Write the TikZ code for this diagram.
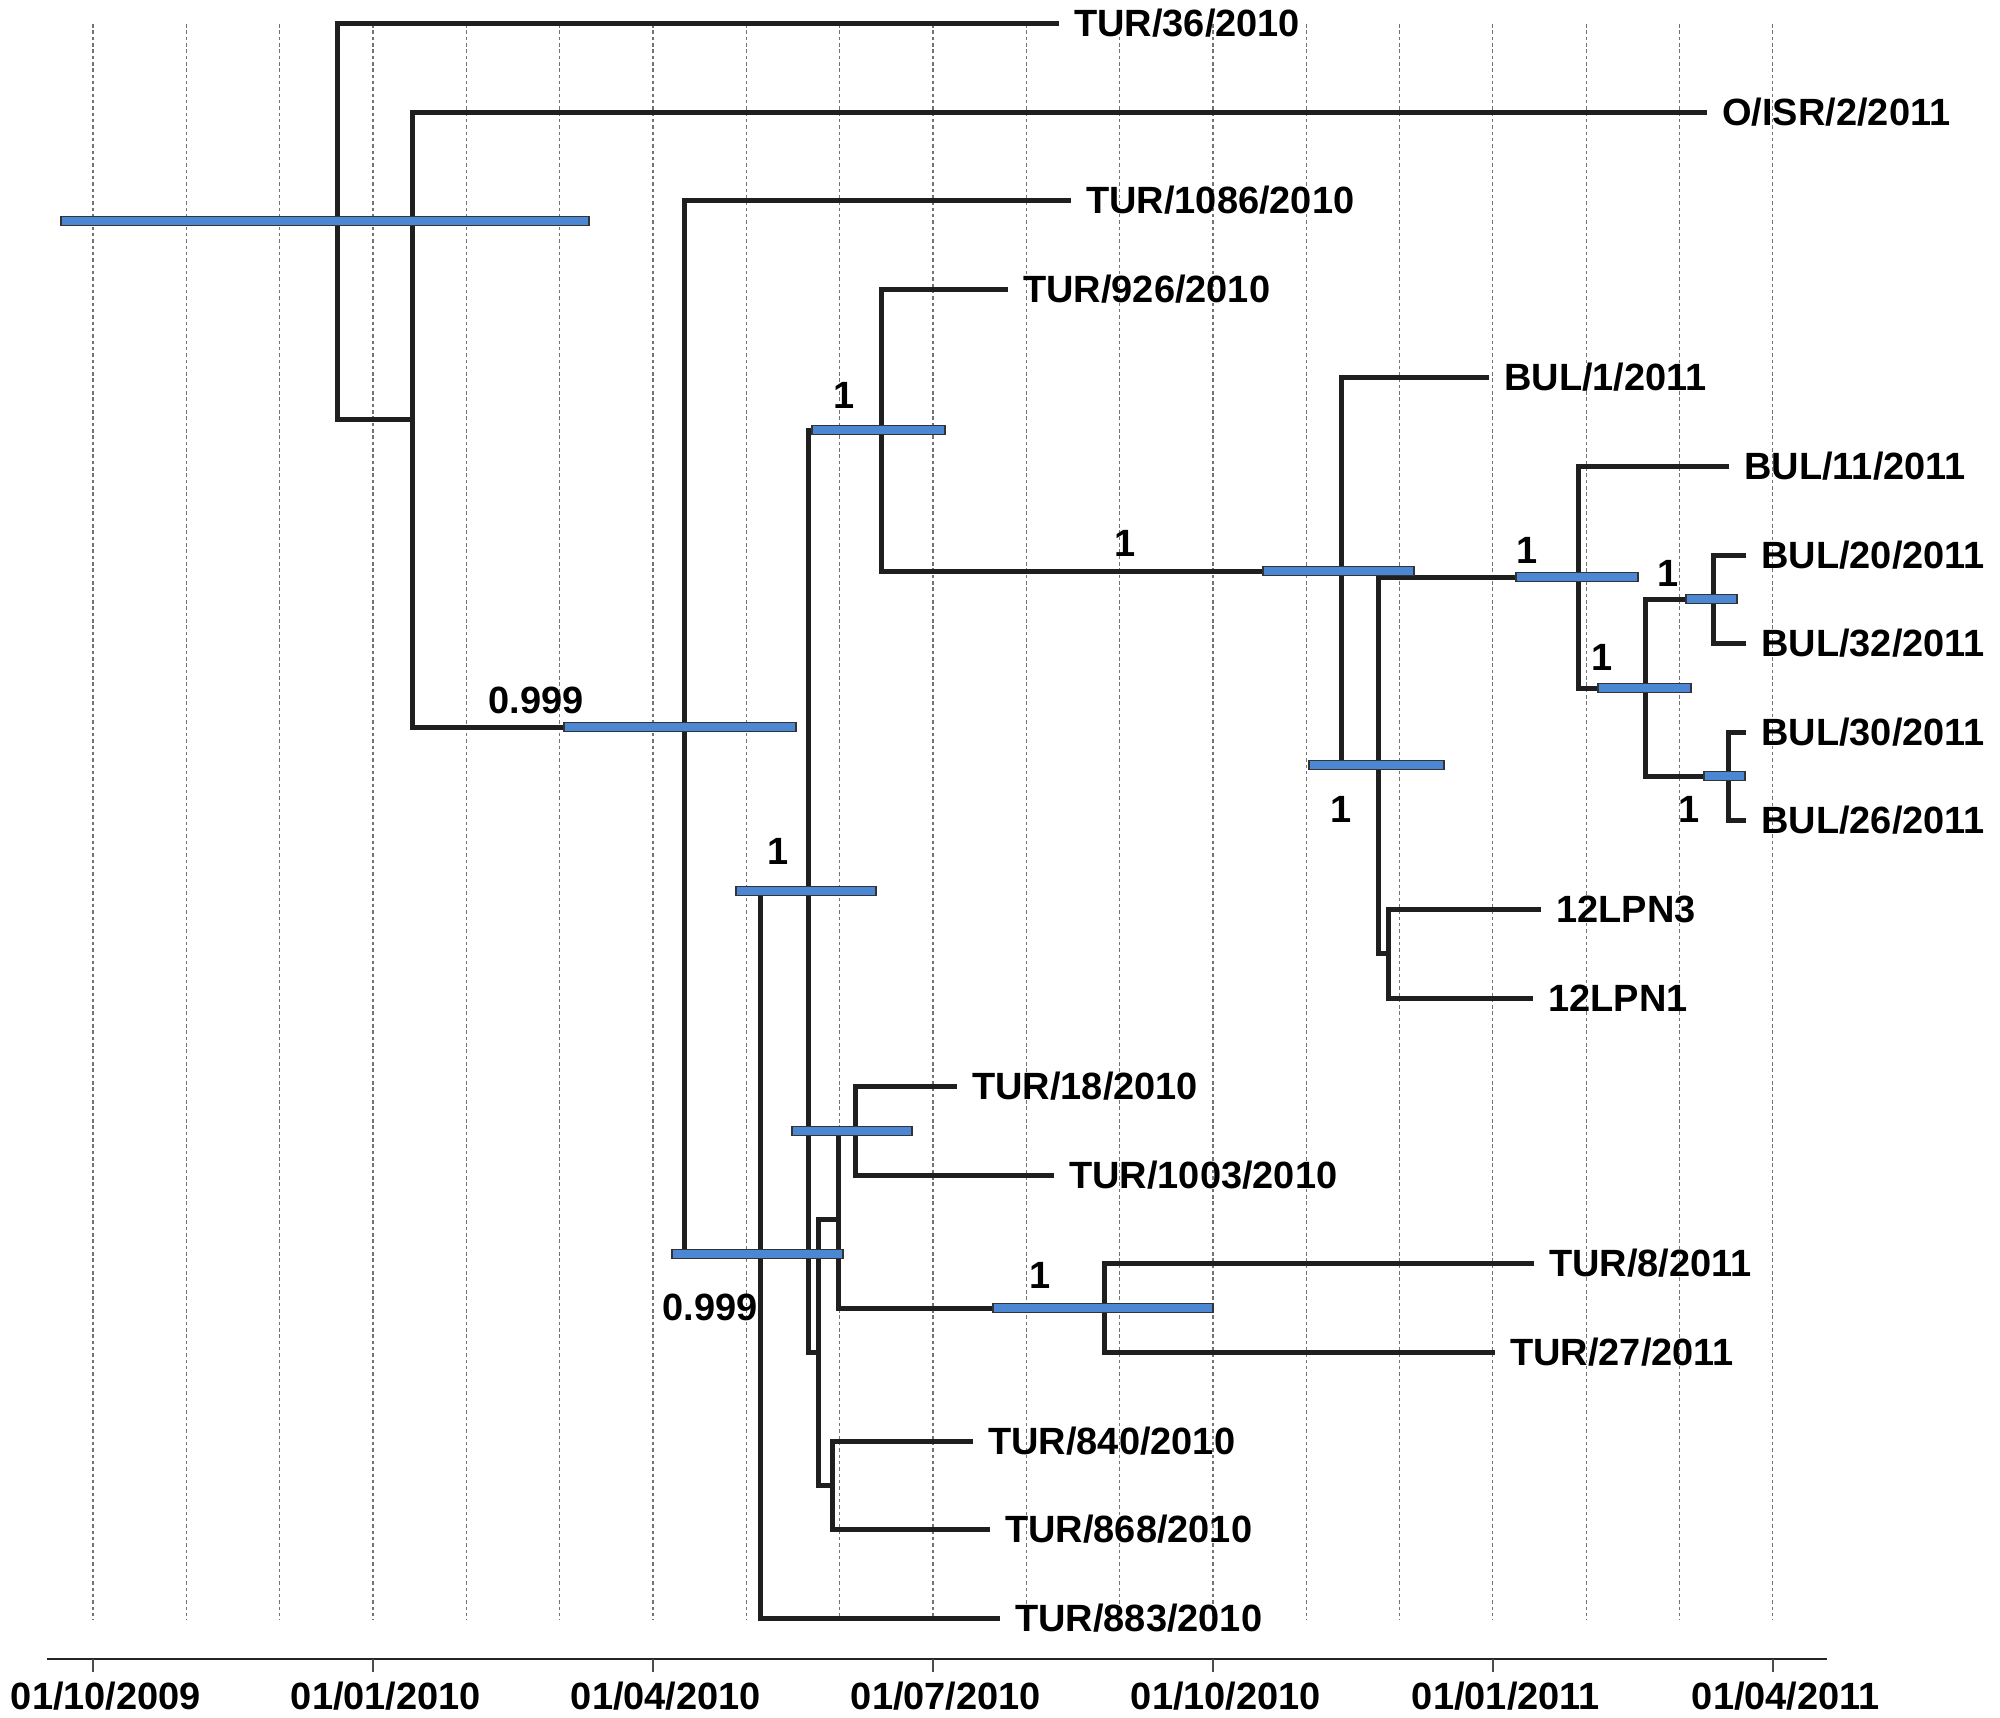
\documentclass[tikz,border=0pt]{standalone}
\usepackage{fontspec}
\setmainfont{Liberation Sans}
\usetikzlibrary{positioning}

\definecolor{hpdblue}{RGB}{76,135,212}

\begin{document}
\begin{tikzpicture}[
        x=0.01cm, y=-0.01cm,
        branch/.style={draw=black!88, line width=0.05cm},
        hpd/.style={draw=black!80, fill=hpdblue, line width=0.4pt},
        leaf/.style={inner sep=1pt, font=\bfseries\fontsize{10.8}{13}\selectfont},
        post/.style={inner sep=0pt, font=\bfseries\fontsize{10.8}{13}\selectfont},
        datelabel/.style={inner sep=0pt, font=\bfseries\fontsize{10.8}{13}\selectfont},
        monthgrid/.style={draw=black!55, line width=0.3pt, dash pattern=on 1pt off 0.8pt},
        axisline/.style={draw=black!85, line width=0.8pt},
        axistick/.style={draw=black!70, line width=0.4pt}
    ]
        \useasboundingbox (0,0) rectangle (2000,1717);

        % Month grid
        \foreach \m in {0,...,18}
            \draw[monthgrid] ({93+93.33*\m},24) -- ({93+93.33*\m},1620);

        % Time axis
        \draw[axisline] (47,1659) -- (1827,1659);
        \foreach \m/\mo/\yr in {0/10/2009, 3/01/2010, 6/04/2010, 9/07/2010, 12/10/2010, 15/01/2011, 18/04/2011} {
            \draw[axistick] ({93+93.33*\m},1659) -- ++(0,13);
            \node[datelabel] (d\m) at ({106+93.33*\m},1696) {01/\mo/\yr};
        }

        % Tips
        \coordinate (tur36) at (1059,23);
        \coordinate (isr2) at (1707,112);
        \coordinate (tur1086) at (1071,200);
        \coordinate (tur926) at (1008,289);
        \coordinate (bul1) at (1489,377);
        \coordinate (bul11) at (1729,466);
        \coordinate (bul20) at (1746,555);
        \coordinate (bul32) at (1746,643);
        \coordinate (bul30) at (1746,732);
        \coordinate (bul26) at (1746,820);
        \coordinate (lpn3) at (1541,909);
        \coordinate (lpn1) at (1533,998);
        \coordinate (tur18) at (957,1086);
        \coordinate (tur1003) at (1054,1175);
        \coordinate (tur8) at (1534,1263);
        \coordinate (tur27) at (1495,1352);
        \coordinate (tur840) at (973,1441);
        \coordinate (tur868) at (990,1529);
        \coordinate (tur883) at (1000,1618);

        \node[leaf, right=0.11cm of tur36] (ltur36) {TUR/36/2010};
        \node[leaf, right=0.11cm of isr2] (lisr2) {O/ISR/2/2011};
        \node[leaf, right=0.11cm of tur1086] (ltur1086) {TUR/1086/2010};
        \node[leaf, right=0.11cm of tur926] (ltur926) {TUR/926/2010};
        \node[leaf, right=0.11cm of bul1] (lbul1) {BUL/1/2011};
        \node[leaf, right=0.11cm of bul11] (lbul11) {BUL/11/2011};
        \node[leaf, right=0.11cm of bul20] (lbul20) {BUL/20/2011};
        \node[leaf, right=0.11cm of bul32] (lbul32) {BUL/32/2011};
        \node[leaf, right=0.11cm of bul30] (lbul30) {BUL/30/2011};
        \node[leaf, right=0.11cm of bul26] (lbul26) {BUL/26/2011};
        \node[leaf, right=0.11cm of lpn3] (llpn3) {12LPN3};
        \node[leaf, right=0.11cm of lpn1] (llpn1) {12LPN1};
        \node[leaf, right=0.11cm of tur18] (ltur18) {TUR/18/2010};
        \node[leaf, right=0.11cm of tur1003] (ltur1003) {TUR/1003/2010};
        \node[leaf, right=0.11cm of tur8] (ltur8) {TUR/8/2011};
        \node[leaf, right=0.11cm of tur27] (ltur27) {TUR/27/2011};
        \node[leaf, right=0.11cm of tur840] (ltur840) {TUR/840/2010};
        \node[leaf, right=0.11cm of tur868] (ltur868) {TUR/868/2010};
        \node[leaf, right=0.11cm of tur883] (ltur883) {TUR/883/2010};

        % Internal nodes
        \coordinate (root) at (337,221);
        \coordinate (n1) at (412,419);
        \coordinate (n2) at (684,727);
        \coordinate (n3) at (760,1254);
        \coordinate (n4) at (808,891);
        \coordinate (n5) at (881,430);
        \coordinate (n6) at (1341,571);
        \coordinate (n7) at (1378,765);
        \coordinate (n8) at (1578,577);
        \coordinate (n9) at (1645,688);
        \coordinate (n10) at (1713,599);
        \coordinate (n11) at (1728,776);
        \coordinate (n12) at (1388,953);
        \coordinate (n13) at (818,1352);
        \coordinate (n14) at (838,1219);
        \coordinate (n15) at (855,1131);
        \coordinate (n16) at (1104,1308);
        \coordinate (n17) at (832,1485);

        % Branches
        \draw[branch] (root) |- (tur36);
        \draw[branch] (root) |- (n1);
        \draw[branch] (n1) |- (isr2);
        \draw[branch] (n1) |- (n2);
        \draw[branch] (n2) |- (tur1086);
        \draw[branch] (n2) |- (n3);
        \draw[branch] (n3) |- (n4);
        \draw[branch] (n3) |- (tur883);
        \draw[branch] (n4) |- (n5);
        \draw[branch] (n4) |- (n13);
        \draw[branch] (n5) |- (tur926);
        \draw[branch] (n5) |- (n6);
        \draw[branch] (n6) |- (bul1);
        \draw[branch] (n6) |- (n7);
        \draw[branch] (n7) |- (n8);
        \draw[branch] (n7) |- (n12);
        \draw[branch] (n8) |- (bul11);
        \draw[branch] (n8) |- (n9);
        \draw[branch] (n9) |- (n10);
        \draw[branch] (n9) |- (n11);
        \draw[branch] (n10) |- (bul20);
        \draw[branch] (n10) |- (bul32);
        \draw[branch] (n11) |- (bul30);
        \draw[branch] (n11) |- (bul26);
        \draw[branch] (n12) |- (lpn3);
        \draw[branch] (n12) |- (lpn1);
        \draw[branch] (n13) |- (n14);
        \draw[branch] (n13) |- (n17);
        \draw[branch] (n14) |- (n15);
        \draw[branch] (n14) |- (n16);
        \draw[branch] (n15) |- (tur18);
        \draw[branch] (n15) |- (tur1003);
        \draw[branch] (n16) |- (tur8);
        \draw[branch] (n16) |- (tur27);
        \draw[branch] (n17) |- (tur840);
        \draw[branch] (n17) |- (tur868);

        % Node height bars
        \draw[hpd] (root) ++(-276,-4.5) rectangle ++(528,9);
        \draw[hpd] (n2) ++(-120,-4.5) rectangle ++(232,9);
        \draw[hpd] (n3) ++(-88,-4.5) rectangle ++(171,9);
        \draw[hpd] (n4) ++(-72,-4.5) rectangle ++(140,9);
        \draw[hpd] (n5) ++(-69,-4.5) rectangle ++(133,9);
        \draw[hpd] (n6) ++(-78,-4.5) rectangle ++(151,9);
        \draw[hpd] (n7) ++(-69,-4.5) rectangle ++(135,9);
        \draw[hpd] (n8) ++(-62,-4.5) rectangle ++(122,9);
        \draw[hpd] (n9) ++(-47,-4.5) rectangle ++(93,9);
        \draw[hpd] (n10) ++(-27,-4.5) rectangle ++(51,9);
        \draw[hpd] (n11) ++(-24,-4.5) rectangle ++(41,9);
        \draw[hpd] (n15) ++(-63,-4.5) rectangle ++(120,9);
        \draw[hpd] (n16) ++(-111,-4.5) rectangle ++(220,9);

        % Posterior support
        \node[post] (p2) at (536,700) {0.999};
        \node[post] (p3) at (710,1307) {0.999};
        \node[post] (p4) at (778,851) {1};
        \node[post] (p5) at (844,395) {1};
        \node[post] (p6) at (1125,543) {1};
        \node[post] (p7) at (1341,809) {1};
        \node[post] (p8) at (1527,550) {1};
        \node[post] (p9) at (1602,657) {1};
        \node[post] (p10) at (1668,573) {1};
        \node[post] (p11) at (1689,809) {1};
        \node[post] (p16) at (1040,1275) {1};

    \end{tikzpicture}
\end{document}
